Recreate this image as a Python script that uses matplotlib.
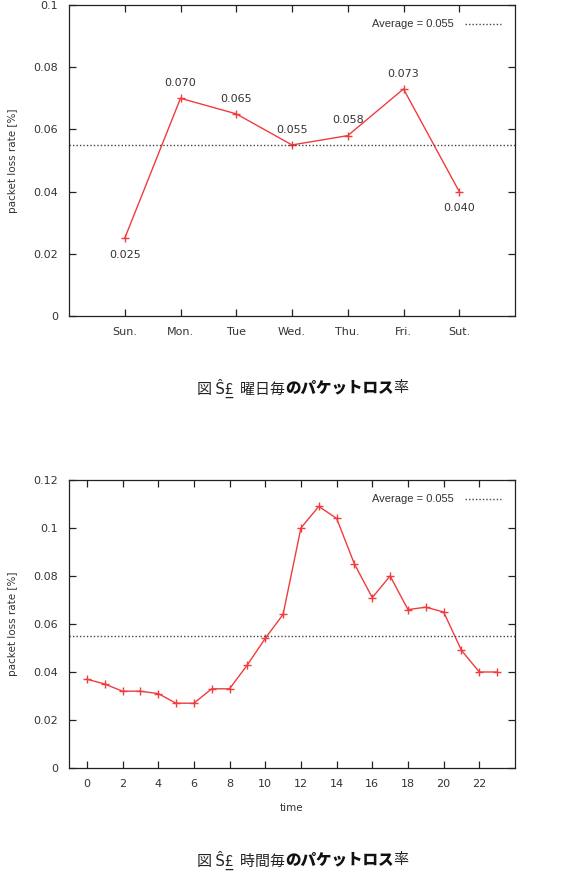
import matplotlib.pyplot as plt

plt.rcParams['font.family'] = ['DejaVu Sans']

days = ['Sun.', 'Mon.', 'Tue', 'Wed.', 'Thu.', 'Fri.', 'Sut.']
day_rate = [0.025, 0.070, 0.065, 0.055, 0.058, 0.073, 0.040]
day_label_below = [True, False, False, False, False, False, True]

hours = list(range(24))
hour_rate = [0.037, 0.035, 0.032, 0.032, 0.031, 0.027, 0.027, 0.033, 0.033, 0.043,
             0.054, 0.064, 0.100, 0.109, 0.104, 0.085, 0.071, 0.080, 0.066, 0.067,
             0.065, 0.049, 0.040, 0.040]

average = 0.055
avg_label = 'Average = 0.055'
ylabel = 'packet loss rate [%]'
caption1 = ['図 Ŝ£̲  曜日毎', 'のパケットロス', '率']
caption2 = ['図 Ŝ£̲  時間毎', 'のパケットロス', '率']

W, H = 588, 871
fig = plt.figure(figsize=(W / 100, H / 100), dpi=100)

red = '#f03c3c'
txt = '#333333'


def px_axes(l, t, r, b):
    return fig.add_axes([l / W, 1 - b / H, (r - l) / W, (b - t) / H])


def style(ax):
    for s in ax.spines.values():
        s.set_color('#222222')
        s.set_linewidth(0.9)
    ax.tick_params(direction='in', length=5, width=0.9, color='#222222',
                   top=True, right=True, labelsize=8, labelcolor=txt, pad=8)
    ax.set_ylabel(ylabel, fontsize=7.5, color=txt)
    ax.yaxis.set_label_coords(-0.115, 0.5)
    leg = ax.legend(loc='upper right', frameon=False, handlelength=3.2,
                    markerfirst=False, borderaxespad=0.9, handletextpad=1.0,
                    labelcolor=txt, prop={'family': 'Liberation Sans', 'size': 8})
    return leg


# top chart: per weekday
ax1 = px_axes(69, 5, 515, 316)
x1 = list(range(1, len(days) + 1))
ax1.plot(x1, day_rate, color=red, lw=1, marker='+', ms=6, mew=1)
ax1.axhline(average, color='#444444', lw=1, ls=(0, (1, 1.5)), label=avg_label)
for xi, v, below in zip(x1, day_rate, day_label_below):
    ax1.annotate('%.3f' % v, (xi, v), xytext=(0, -12 if below else 11),
                 textcoords='offset points', ha='center', va='center',
                 fontsize=8, color=txt)
ax1.set_xlim(0, 8)
ax1.set_ylim(0, 0.1)
ax1.set_xticks(x1)
ax1.set_xticklabels(days)
ax1.set_yticks([0, 0.02, 0.04, 0.06, 0.08, 0.1])
ax1.set_yticklabels(['0', '0.02', '0.04', '0.06', '0.08', '0.1'])
style(ax1)

# bottom chart: per hour
ax2 = px_axes(69, 480, 515, 768)
ax2.plot(hours, hour_rate, color=red, lw=1, marker='+', ms=6, mew=1)
ax2.axhline(average, color='#444444', lw=1, ls=(0, (1, 1.5)), label=avg_label)
ax2.set_xlim(-1, 24)
ax2.set_ylim(0, 0.12)
ax2.set_xticks(range(0, 23, 2))
ax2.set_yticks([0, 0.02, 0.04, 0.06, 0.08, 0.1, 0.12])
ax2.set_yticklabels(['0', '0.02', '0.04', '0.06', '0.08', '0.1', '0.12'])
style(ax2)
ax2.set_xlabel('time', fontsize=7.5, color=txt, labelpad=10)

# captions, normal / bold / normal pieces chained left to right
fam = ['Noto Sans CJK JP', 'DejaVu Sans']
for parts, y in [(caption1, 388), (caption2, 860)]:
    t = fig.text(197 / W, 1 - y / H, parts[0], fontsize=10.8, va='center',
                 color='#222222', family=fam)
    t = ax2.annotate(parts[1], xy=(1, 0.5), xycoords=t, va='center',
                     fontsize=11.2, fontweight='heavy', color='#111111', family=fam,
                     annotation_clip=False)
    t = ax2.annotate(parts[2], xy=(1, 0.5), xycoords=t, va='center',
                     fontsize=10.8, color='#222222', family=fam,
                     annotation_clip=False)

fig.savefig('out.png', dpi=100)
